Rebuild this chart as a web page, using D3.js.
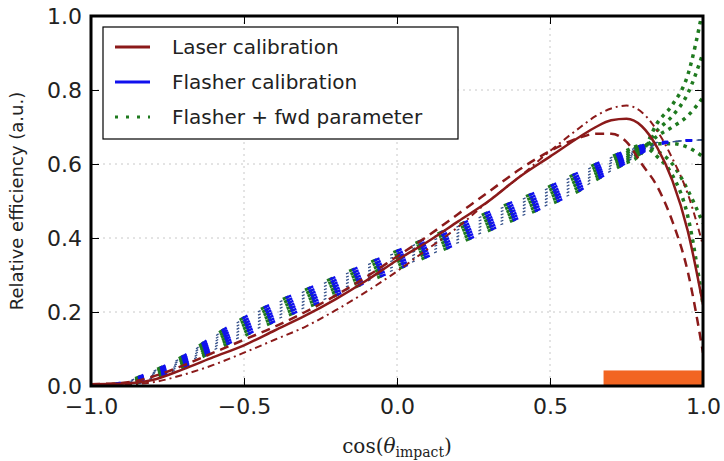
<!DOCTYPE html>
<html>
<head>
<meta charset="utf-8">
<script src="https://cdn.jsdelivr.net/npm/d3@7/dist/d3.min.js"></script>
<style>
  body { margin: 0; background: #fff; }
  svg { display: block; }
</style>
</head>
<body>
<div id="chart"></div>
<script>
// cos(theta_impact) sample positions
const xs = [-1, -0.9, -0.8, -0.7, -0.6, -0.5, -0.4, -0.3, -0.2, -0.1, 0, 0.1, 0.2, 0.3, 0.4, 0.5, 0.6, 0.65, 0.7, 0.75, 0.8, 0.85, 0.9, 0.95, 1.0];

// laser calibration: central curve and its two variations
const laserMain = [0.005, 0.006, 0.016, 0.045, 0.078, 0.11, 0.15, 0.19, 0.235, 0.285, 0.34, 0.39, 0.445, 0.5, 0.565, 0.62, 0.675, 0.7, 0.718, 0.722, 0.702, 0.645, 0.555, 0.42, 0.22];
const laserDashed = [0.005, 0.008, 0.025, 0.055, 0.09, 0.125, 0.16, 0.2, 0.245, 0.295, 0.35, 0.405, 0.465, 0.525, 0.585, 0.635, 0.672, 0.682, 0.682, 0.66, 0.6, 0.54, 0.445, 0.31, 0.09];
const laserDashDot = [0.003, 0.004, 0.01, 0.03, 0.057, 0.09, 0.125, 0.16, 0.205, 0.255, 0.31, 0.37, 0.43, 0.5, 0.565, 0.635, 0.7, 0.73, 0.75, 0.758, 0.74, 0.69, 0.615, 0.52, 0.38];

// flasher calibration band (centre and half spread of the overlapping curves)
const flasher = [0.0, 0.005, 0.03, 0.065, 0.115, 0.16, 0.2, 0.235, 0.27, 0.305, 0.34, 0.375, 0.41, 0.445, 0.48, 0.515, 0.555, 0.578, 0.6, 0.62, 0.64, 0.655, 0.66, 0.664, 0.665];
const flasherSpread = [0.0, 0.004, 0.01, 0.015, 0.02, 0.025, 0.025, 0.025, 0.025, 0.025, 0.025, 0.025, 0.025, 0.025, 0.025, 0.025, 0.025, 0.022, 0.02, 0.016, 0.01, 0.004, 0, 0, 0];
const blueMembers = [-1, -0.66, -0.33, 0, 0.33, 0.66, 1];
const thinMembers = [-0.9, -0.55, -0.2, 0.15, 0.5, 0.85];

// flasher + fwd parameter: same band, fanning out above cos = 0.8
const greenMembers = [-1, -0.6, -0.2, 0.2, 0.6, 1];
const greenTails = [
  [0.71, 0.76, 0.84, 1.02],
  [0.69, 0.73, 0.79, 0.9],
  [0.675, 0.7, 0.73, 0.78],
  [0.655, 0.655, 0.645, 0.62],
  [0.635, 0.6, 0.53, 0.44],
  [0.62, 0.57, 0.46, 0.22]
];

// forward region marker
const fwdRegion = [0.675, 1.0];
const fwdHeight = 0.042;

const xTicks = [-1, -0.5, 0, 0.5, 1];
const yTicks = [0, 0.2, 0.4, 0.6, 0.8, 1.0];
const legendLabels = ['Laser calibration', 'Flasher calibration', 'Flasher + fwd parameter'];

const width = 724, height = 461;
const m = { left: 91, right: 703, top: 16, bottom: 386 };
const red = '#8b1a1a', blue = '#1010ee', green = '#1f7a1f';

const svg = d3.select('#chart').append('svg')
  .attr('width', width)
  .attr('height', height);

const x = d3.scaleLinear().domain([-1, 1]).range([m.left, m.right]);
const y = d3.scaleLinear().domain([0, 1]).range([m.bottom, m.top]);

svg.append('clipPath').attr('id', 'clip')
  .append('rect')
  .attr('x', m.left).attr('y', m.top)
  .attr('width', m.right - m.left).attr('height', m.bottom - m.top);

// dotted grid
const grid = svg.append('g');
grid.selectAll('.gx').data(xTicks.slice(1, -1)).enter().append('line')
  .attr('x1', d => x(d)).attr('x2', d => x(d))
  .attr('y1', m.top).attr('y2', m.bottom);
grid.selectAll('.gy').data(yTicks.slice(1, -1)).enter().append('line')
  .attr('x1', m.left).attr('x2', m.right)
  .attr('y1', d => y(d)).attr('y2', d => y(d));
grid.selectAll('line')
  .attr('stroke', '#c8c8c8')
  .attr('stroke-width', 1)
  .attr('stroke-dasharray', '2,4');

const line = d3.line()
  .x(d => x(d[0]))
  .y(d => y(d[1]))
  .curve(d3.curveMonotoneX);

const plot = svg.append('g').attr('clip-path', 'url(#clip)');
const bandPts = k => xs.map((xv, j) => [xv, flasher[j] + k * flasherSpread[j]]);

// green: band part (index <= 20) and dotted fan (index >= 19)
greenMembers.forEach((k, i) => {
  const pts = xs.map((xv, j) => j <= 20
    ? [xv, flasher[j] + k * flasherSpread[j]]
    : [xv, greenTails[i][j - 21]]);
  plot.append('path')
    .attr('d', line(pts.slice(0, 21)))
    .attr('fill', 'none')
    .attr('stroke', green)
    .attr('stroke-width', 3)
    .attr('stroke-dasharray', '6,18')
    .attr('stroke-dashoffset', 3);
  plot.append('path')
    .attr('d', line(pts.slice(19)))
    .attr('fill', 'none')
    .attr('stroke', green)
    .attr('stroke-width', 3.5)
    .attr('stroke-dasharray', '3.5,5');
});

// blue band: aligned dashes give the vertical bars
blueMembers.forEach(k => {
  plot.append('path')
    .attr('d', line(bandPts(k)))
    .attr('fill', 'none')
    .attr('stroke', blue)
    .attr('stroke-width', 2.5)
    .attr('stroke-dasharray', '6,18');
});
// thin slanted strokes between the bars (dash phase drifts across members)
thinMembers.forEach((k, i) => {
  plot.append('path')
    .attr('d', line(bandPts(k)))
    .attr('fill', 'none')
    .attr('stroke', '#34508a')
    .attr('stroke-width', 1.3)
    .attr('stroke-dasharray', '3,21')
    .attr('stroke-dashoffset', -11 - i * 1.2);
});

// laser curves
const laserStyles = [
  { data: laserDashDot, dash: '7,4,2,4', w: 2 },
  { data: laserDashed, dash: '9,6', w: 2.5 },
  { data: laserMain, dash: null, w: 2.5 }
];
laserStyles.forEach(s => {
  plot.append('path')
    .attr('d', line(xs.map((xv, j) => [xv, s.data[j]])))
    .attr('fill', 'none')
    .attr('stroke', red)
    .attr('stroke-width', s.w)
    .attr('stroke-dasharray', s.dash);
});

// forward region bar
plot.append('rect')
  .attr('x', x(fwdRegion[0]))
  .attr('y', y(fwdHeight))
  .attr('width', x(fwdRegion[1]) - x(fwdRegion[0]))
  .attr('height', y(0) - y(fwdHeight))
  .attr('fill', '#f26522');

// axes with inward ticks
const fmt = d3.format('.1f');
const axisFont = g => g.selectAll('text')
  .attr('font-family', 'DejaVu Sans, sans-serif')
  .attr('font-size', 22)
  .attr('fill', '#222');

svg.append('g')
  .attr('transform', `translate(0,${m.bottom})`)
  .call(d3.axisBottom(x).tickValues(xTicks).tickFormat(fmt).tickSize(-8).tickPadding(12))
  .call(g => g.select('.domain').remove())
  .call(axisFont);
svg.append('g')
  .attr('transform', `translate(${m.left},0)`)
  .call(d3.axisLeft(y).tickValues(yTicks).tickFormat(fmt).tickSize(-8).tickPadding(9))
  .call(g => g.select('.domain').remove())
  .call(axisFont);
svg.append('g')
  .attr('transform', `translate(0,${m.top})`)
  .call(d3.axisTop(x).tickValues(xTicks).tickFormat('').tickSize(-8))
  .call(g => g.select('.domain').remove());
svg.append('g')
  .attr('transform', `translate(${m.right},0)`)
  .call(d3.axisRight(y).tickValues(yTicks).tickFormat('').tickSize(-8))
  .call(g => g.select('.domain').remove());
svg.selectAll('.tick line').attr('stroke', '#000').attr('stroke-width', 1);

// frame
svg.append('rect')
  .attr('x', m.left).attr('y', m.top)
  .attr('width', m.right - m.left).attr('height', m.bottom - m.top)
  .attr('fill', 'none')
  .attr('stroke', '#000')
  .attr('stroke-width', 3);

// axis titles
svg.append('text')
  .attr('transform', `translate(23,${(m.top + m.bottom) / 2}) rotate(-90)`)
  .attr('text-anchor', 'middle')
  .attr('font-family', 'DejaVu Sans, sans-serif')
  .attr('font-size', 18)
  .attr('fill', '#222')
  .text('Relative efficiency (a.u.)');

const xl = svg.append('text')
  .attr('x', (m.left + m.right) / 2)
  .attr('y', 453)
  .attr('text-anchor', 'middle')
  .attr('font-family', 'DejaVu Serif, serif')
  .attr('font-size', 20)
  .attr('fill', '#222');
xl.append('tspan').text('cos(');
xl.append('tspan').attr('font-style', 'italic').text('θ');
xl.append('tspan').attr('font-size', 14).attr('dy', 4).text('impact');
xl.append('tspan').attr('dy', -4).text(')');

// legend
const legend = svg.append('g').attr('transform', 'translate(103,27)');
legend.append('rect')
  .attr('width', 355).attr('height', 112)
  .attr('fill', '#fff')
  .attr('stroke', '#000')
  .attr('stroke-width', 1.2);
const legendStyles = [
  { color: red, dash: null },
  { color: blue, dash: null },
  { color: green, dash: '3,8' }
];
const rows = legend.selectAll('.row').data(legendLabels).enter().append('g')
  .attr('transform', (d, i) => `translate(0,${20 + i * 35})`);
rows.append('line')
  .attr('x1', 12).attr('x2', 47)
  .attr('stroke', (d, i) => legendStyles[i].color)
  .attr('stroke-width', 3)
  .attr('stroke-dasharray', (d, i) => legendStyles[i].dash);
rows.append('text')
  .attr('x', 69).attr('dy', '0.35em')
  .attr('font-family', 'DejaVu Sans, sans-serif')
  .attr('font-size', 20)
  .attr('fill', '#222')
  .text(d => d);
</script>
</body>
</html>
